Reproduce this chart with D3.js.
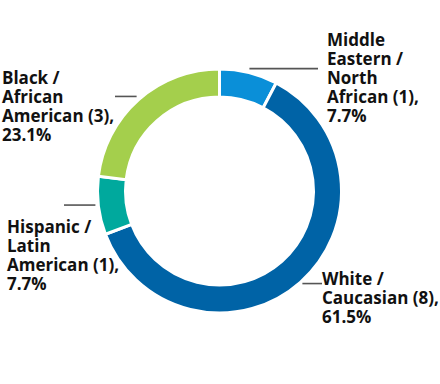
<!DOCTYPE html>
<html>
<head>
<meta charset="utf-8">
<script src="https://cdn.jsdelivr.net/npm/d3@7"></script>
<style>
	body { margin: 0; background: #fff; }
	text { font-family: 'Open Sans', 'Noto Sans', sans-serif; font-weight: 700; font-size: 17px; fill: #111; }
</style>
</head>
<body>
<div id="chart"></div>
<script>
const categories = ['Middle Eastern / North African', 'White / Caucasian', 'Hispanic / Latin American', 'Black / African American'];
const counts = [1, 8, 1, 3];
const colors = ['#0a8fd8', '#0063a6', '#00a99d', '#a4cf4c'];

// label lines, by slice: where the leader ends, where the text block starts
const labelLines = [
	['Middle', 'Eastern /', 'North', 'African (1),', '7.7%'],
	['White /', 'Caucasian (8),', '61.5%'],
	['Hispanic /', 'Latin', 'American (1),', '7.7%'],
	['Black /', 'African', 'American (3),', '23.1%'],
];
const leaderEnd = [318, 322, 64, 115];
const textAt = [[327, 46], [322, 285], [7, 233], [2, 84]];

const width = 440;
const height = 384;
const cx = 219.5;
const cy = 191;
const outerR = 122;
const innerR = 94;
const lineHeight = 19;

const data = categories.map((c, i) => ({ category: c, count: counts[i], color: colors[i], i }));

const pie = d3.pie()
		.value((d) => d.count)
		.sort(null);
const arc = d3.arc()
		.innerRadius(innerR)
		.outerRadius(outerR);

const svg = d3.select('#chart').append('svg')
		.attr('width', width)
		.attr('height', height);

const g = svg.append('g')
		.attr('transform', `translate(${cx}, ${cy})`);

const arcs = pie(data);

g.selectAll('.slice')
		.data(arcs)
	.enter().append('path')
		.attr('class', 'slice')
		.attr('d', arc)
		.style('fill', (d) => d.data.color)
		.style('stroke', '#fff')
		.style('stroke-width', 3);

// leader lines from the outer edge of each slice
const midY = (d) => -Math.cos((d.startAngle + d.endAngle) / 2) * (outerR + 3) - 1;
g.selectAll('.leader')
		.data(arcs)
	.enter().append('line')
		.attr('class', 'leader')
		.attr('x1', (d) => Math.sin((d.startAngle + d.endAngle) / 2) * (outerR + 3))
		.attr('y1', midY)
		.attr('x2', (d) => leaderEnd[d.data.i] - cx)
		.attr('y2', midY)
		.style('stroke', '#555')
		.style('stroke-width', 1.6);

const labels = svg.selectAll('.label')
		.data(data)
	.enter().append('text')
		.attr('class', 'label')
		.attr('x', (d) => textAt[d.i][0])
		.attr('y', (d) => textAt[d.i][1]);

labels.selectAll('tspan')
		.data((d) => labelLines[d.i].map((t) => ({ t, x: textAt[d.i][0] })))
	.enter().append('tspan')
		.attr('x', (d) => d.x)
		.attr('dy', (d, j) => j === 0 ? 0 : lineHeight)
		.text((d) => d.t);
</script>
</body>
</html>
